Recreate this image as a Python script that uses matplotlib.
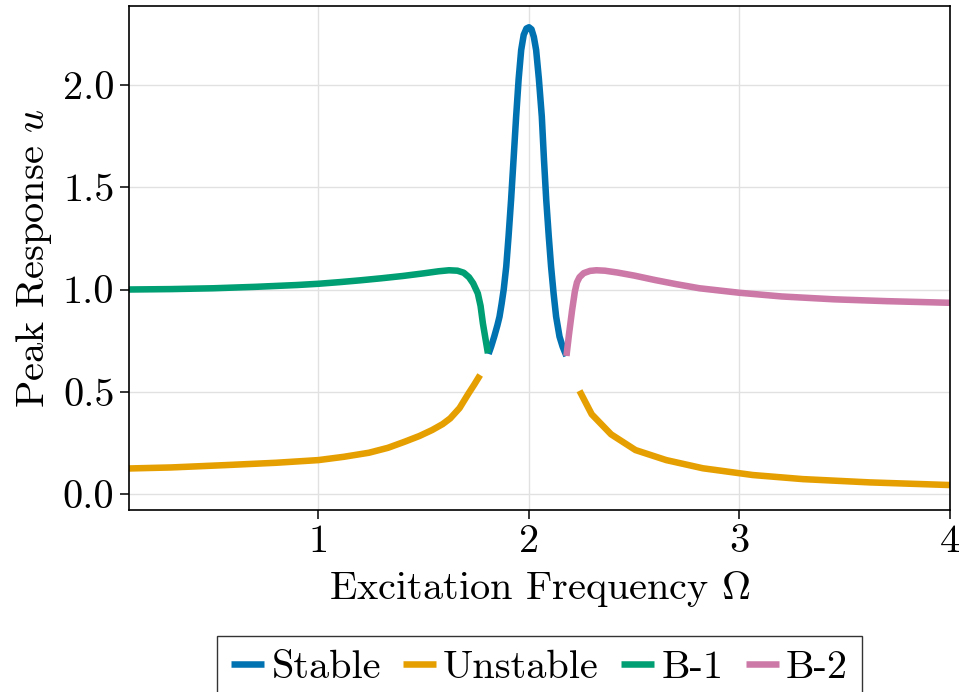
import numpy as np
import matplotlib
matplotlib.use("Agg")
import matplotlib.pyplot as plt

plt.rcParams["font.family"] = ["cmr10"]
plt.rcParams["mathtext.fontset"] = "cm"
plt.rcParams["axes.formatter.use_mathtext"] = True

# Stable branch: resonance peak around Omega = 2
stable_x = [1.808, 1.82, 1.835, 1.85, 1.86, 1.87, 1.88, 1.892, 1.903, 1.915, 1.927, 1.939,
            1.951, 1.963, 1.975, 1.988, 2.0, 2.012, 2.023, 2.034, 2.047, 2.061, 2.071,
            2.082, 2.094, 2.105, 2.117, 2.129, 2.145, 2.16, 2.178]
stable_y = [0.685, 0.72, 0.77, 0.825, 0.867, 0.93, 1.0, 1.112, 1.26, 1.438, 1.64, 1.845,
            2.03, 2.171, 2.245, 2.276, 2.282, 2.272, 2.235, 2.171, 2.03, 1.845, 1.64,
            1.438, 1.26, 1.112, 0.98, 0.867, 0.77, 0.72, 0.675]

# Unstable branch (two pieces, separated by a gap)
unstable_left_x = [0.1, 0.3, 0.57, 0.8, 1.0, 1.12, 1.24, 1.33, 1.41, 1.48, 1.54,
                   1.59, 1.626, 1.67, 1.713, 1.74, 1.768]
unstable_left_y = [0.125, 0.13, 0.142, 0.153, 0.166, 0.182, 0.202, 0.226, 0.256, 0.284,
                   0.313, 0.342, 0.37, 0.42, 0.492, 0.535, 0.582]
unstable_right_x = [2.24, 2.298, 2.39, 2.506, 2.652, 2.826, 3.063, 3.301, 3.618, 4.0]
unstable_right_y = [0.505, 0.39, 0.292, 0.215, 0.166, 0.126, 0.093, 0.073, 0.057, 0.044]

# Bifurcated branch B-1 (low frequency side)
b1_x = [0.1, 0.3, 0.5, 0.7, 0.9, 1.0, 1.1, 1.2, 1.3, 1.4, 1.5, 1.57, 1.62, 1.66,
        1.69, 1.715, 1.735, 1.757, 1.77, 1.781, 1.805]
b1_y = [1.0, 1.002, 1.006, 1.013, 1.022, 1.028, 1.036, 1.045, 1.055, 1.066, 1.079, 1.089,
        1.094, 1.092, 1.082, 1.06, 1.03, 0.981, 0.92, 0.835, 0.688]

# Bifurcated branch B-2 (high frequency side)
b2_x = [2.178, 2.19, 2.205, 2.218, 2.228, 2.24, 2.26, 2.29, 2.32, 2.36, 2.42, 2.5,
        2.6, 2.7, 2.81, 3.0, 3.2, 3.45, 3.7, 4.0]
b2_y = [0.675, 0.78, 0.90, 0.99, 1.035, 1.06, 1.08, 1.091, 1.094, 1.092, 1.083, 1.068,
        1.046, 1.026, 1.006, 0.984, 0.966, 0.952, 0.943, 0.935]

x_ticks = [1, 2, 3, 4]
y_ticks = [0.0, 0.5, 1.0, 1.5, 2.0]

colors = {"Stable": "#0072B2", "Unstable": "#E69F00", "B-1": "#009E73", "B-2": "#CC79A7"}

fs = 29
fig = plt.figure(figsize=(9.73, 6.92), dpi=100)
ax = fig.add_axes([129 / 973, 1 - 510 / 692, (950 - 129) / 973, (510 - 6) / 692])

lw = 4.7
line_kw = dict(lw=lw, solid_capstyle="butt", solid_joinstyle="round")

ax.plot(stable_x, stable_y, color=colors["Stable"], label="Stable", **line_kw)
ux = unstable_left_x + [np.nan] + unstable_right_x
uy = unstable_left_y + [np.nan] + unstable_right_y
ax.plot(ux, uy, color=colors["Unstable"], label="Unstable", **line_kw)
ax.plot(b1_x, b1_y, color=colors["B-1"], label="B-1", **line_kw)
ax.plot(b2_x, b2_y, color=colors["B-2"], label="B-2", **line_kw)

ax.set_xlim(0.1, 4.0)
ax.set_ylim(-0.078, 2.386)
ax.set_xticks(x_ticks)
ax.set_xticklabels([str(t) for t in x_ticks])
ax.set_yticks(y_ticks)
ax.set_yticklabels([f"{t:.1f}" for t in y_ticks])

ax.grid(True, color="#e1e1e1", lw=1.0, alpha=1.0)
ax.set_axisbelow(True)
for sp in ax.spines.values():
    sp.set_linewidth(1.2)
    sp.set_color("black")
ax.tick_params(axis="both", direction="out", length=6.5, width=1.1, labelsize=fs,
               pad=4, top=False, right=False)

ax.set_xlabel(r"Excitation Frequency $\Omega$", fontsize=fs, labelpad=6)
ax.set_ylabel(r"Peak Response $u$", fontsize=fs, labelpad=6)

leg = fig.legend(loc="upper center", bbox_to_anchor=(539.4 / 973, 1 - 636 / 692),
                 ncol=4, fontsize=fs, frameon=True, fancybox=False,
                 edgecolor="black", handlelength=0.82, handletextpad=0.18,
                 columnspacing=0.55, borderpad=0.35, borderaxespad=0)
leg.get_frame().set_linewidth(1.0)
for h in leg.get_lines():
    h.set_linewidth(4.7)
    h.set_solid_capstyle("butt")

fig.savefig("out.png", dpi=100)
